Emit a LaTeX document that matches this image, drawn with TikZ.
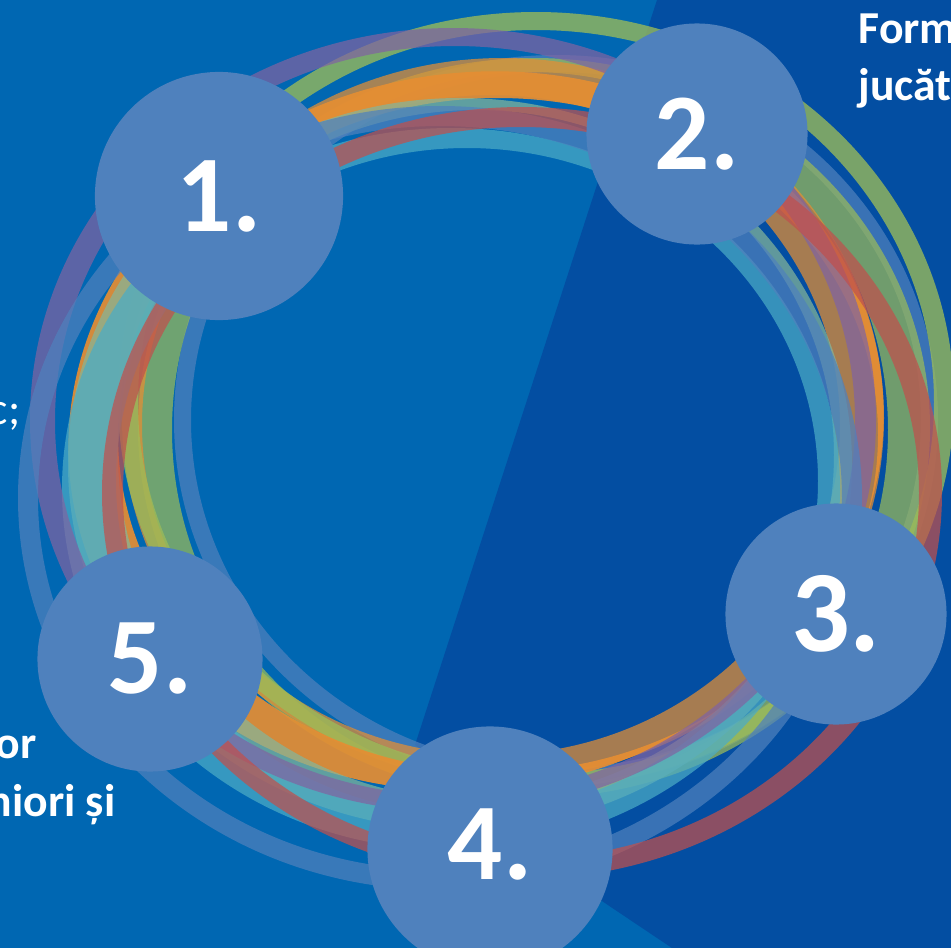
\documentclass[tikz,border=0pt]{standalone}
\usepackage{fontspec}
\setmainfont{Carlito}
\definecolor{bgblue}{HTML}{0067B2}
\definecolor{bgdark}{HTML}{034EA2}
\definecolor{discblue}{HTML}{4F81BD}
\definecolor{bandred}{HTML}{C0504D}
\definecolor{bandgreen}{HTML}{9BBB59}
\definecolor{bandpurple}{HTML}{8064A2}
\definecolor{bandcyan}{HTML}{4BACC6}
\definecolor{bandorange}{HTML}{E58E33}
\definecolor{bandteal}{HTML}{85B59A}
\tikzset{
  band/.style={fill=#1,fill opacity=.72,even odd rule},
  disc/.style={circle,fill=discblue,text=white,font=\fontsize{31}{31}\selectfont\bfseries,inner sep=0pt,minimum size=#1},
  side/.style={text=white,font=\fontsize{13}{15}\selectfont\bfseries,inner sep=0pt}
}
\begin{document}
\begin{tikzpicture}[x=0.01cm,y=-0.01cm]
\useasboundingbox (0,0) rectangle (951,948);
\clip (0,0) rectangle (951,948);
\fill[bgblue] (0,0) rectangle (951,948);
\fill[bgdark] (657,0) -- (415,745) -- (590,893) -- (672,948) -- (951,948) -- (951,0) -- cycle;
% rings, outer ellipse then inner ellipse
\fill[band=discblue] (556,420) ellipse [x radius=382,y radius=365] (556,420) ellipse [x radius=365,y radius=348];
\fill[band=bandgreen] (534,428) ellipse [x radius=396,y radius=370] (530,430) ellipse [x radius=358,y radius=358];
\fill[band=bandorange] (503,418) ellipse [x radius=381,y radius=360] (491,425) ellipse [x radius=349,y radius=330];
\fill[band=bandgreen,fill opacity=.78] (536,400) ellipse [x radius=418,y radius=388] (536,402) ellipse [x radius=398,y radius=372];
\fill[band=bandorange,fill opacity=.92] (476,431) ellipse [x radius=409,y radius=358,rotate=10] (498,435) ellipse [x radius=380,y radius=337];
\fill[band=bandteal] (460,464) ellipse [x radius=392,y radius=366] (476,455) ellipse [x radius=358,y radius=345];
\fill[band=bandcyan] (451,489) ellipse [x radius=389,y radius=361] (467,481) ellipse [x radius=351,y radius=333];
\fill[band=bandpurple] (453,420) ellipse [x radius=423,y radius=392] (455,421) ellipse [x radius=400,y radius=375];
\fill[band=discblue] (440,498) ellipse [x radius=422,y radius=392] (440,498) ellipse [x radius=402,y radius=372];
\fill[band=bandred] (522,493) ellipse [x radius=420,y radius=386] (521,493) ellipse [x radius=398,y radius=366];
% discs
\node[disc=2.48cm] (one) at (219,196) {1.};
\node[disc=2.21cm] (two) at (697,134) {2.};
\node[disc=2.21cm,font=\fontsize{33}{33}\selectfont\bfseries] (three) at (836,614) {3.};
\node[disc=2.45cm] (four) at (490,849) {\raisebox{0.09cm}{4.}};
\node[disc=2.25cm] (five) at (150,659) {5.};
% cut off texts
\node[side,anchor=base west] (topa) at (858,43) {Form};
\node[side,anchor=base west] (topb) at (858,100) {jucăt};
\node[side,anchor=base east,font=\fontsize{13}{15}\selectfont] (lefta) at (21,424) {c;};
\node[side,anchor=base east] (leftb) at (37,758) {or};
\node[side,anchor=base east] (leftc) at (116,816) {niori și};
\end{tikzpicture}
\end{document}
